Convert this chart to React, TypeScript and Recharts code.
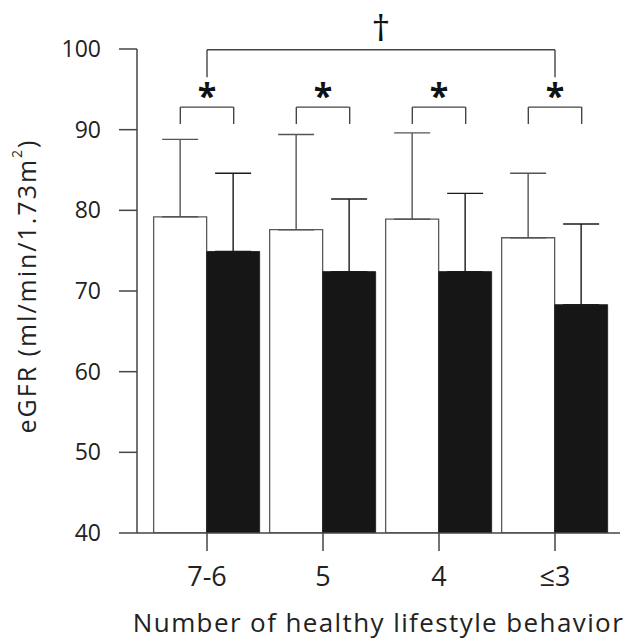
import React from 'react';
import { BarChart, Bar, XAxis, YAxis, ErrorBar, ReferenceLine } from 'recharts';

// ---- data ----
const categories = ['7-6', '5', '4', '≤3'];
const groupAMeans = [79.2, 77.6, 78.9, 76.6];
const groupASD = [9.6, 11.8, 10.7, 8.0];
const groupBMeans = [74.9, 72.4, 72.4, 68.3];
const groupBSD = [9.7, 9.0, 9.7, 10.0];
const yTicks = [40, 50, 60, 70, 80, 90, 100];
const pairBracketTop = 92.8;
const pairBracketFoot = 90.7;
const overallBracketTop = 99.9;
const overallBracketFoot = 96.5;

const data = categories.map((c, i) => ({
  cat: c,
  pos: i + 0.5,
  a: groupAMeans[i],
  aErr: [0, groupASD[i]],
  b: groupBMeans[i],
  bErr: [0, groupBSD[i]],
}));

const FONT = '"Open Sans", sans-serif';
const AXIS = '#444';
const GAP_FRAC = 0.04; // barCategoryGap as fraction of the band
const HALF_OFF = (1 - 2 * GAP_FRAC) / 4; // bar centre offset from band centre
const PAD = { left: 12, right: 7 };

const markLabel = (text: string, size: number, dy: number, weight: number) => (props: any) => {
  const vb = props.viewBox || {};
  const cx = vb.x + (vb.width || 0) / 2;
  return (
    <text x={cx} y={vb.y + dy} textAnchor="middle" fontSize={size} fontFamily={FONT}
      fontWeight={weight} fill="#111">
      {text}
    </text>
  );
};

const yLabel = (props: any) => {
  const vb = props.viewBox || {};
  const x = 26;
  const y = vb.y + vb.height / 2 - 5;
  return (
    <text x={x} y={y} transform={`rotate(-90, ${x}, ${y})`} textAnchor="middle"
      dominantBaseline="central" fontSize={25} letterSpacing={2} fontFamily={FONT} fill="#222">
      eGFR (ml/min/1.73m<tspan fontSize={14} dy={-10}>2</tspan><tspan dy={10}>)</tspan>
    </text>
  );
};

const xLabel = (props: any) => {
  const vb = props.viewBox || {};
  return (
    <text x={vb.x + vb.width / 2} y={632} textAnchor="middle" fontSize={26} letterSpacing={1.4}
      fontFamily={FONT} fill="#222">
      Number of healthy lifestyle behavior
    </text>
  );
};

export default function App() {
  const lines: React.ReactNode[] = [];
  categories.forEach((_, i) => {
    const l = i + 0.5 - HALF_OFF;
    const r = i + 0.5 + HALF_OFF;
    lines.push(
      <ReferenceLine key={`pt${i}`} xAxisId="pos" ifOverflow="visible" stroke={AXIS} strokeWidth={1.4}
        segment={[{ x: l, y: pairBracketTop }, { x: r, y: pairBracketTop }]}
        label={markLabel('*', 34, 1, 700)} />,
      <ReferenceLine key={`pl${i}`} xAxisId="pos" ifOverflow="visible" stroke={AXIS} strokeWidth={1.4}
        segment={[{ x: l, y: pairBracketTop }, { x: l, y: pairBracketFoot }]} />,
      <ReferenceLine key={`pr${i}`} xAxisId="pos" ifOverflow="visible" stroke={AXIS} strokeWidth={1.4}
        segment={[{ x: r, y: pairBracketTop }, { x: r, y: pairBracketFoot }]} />
    );
  });
  const first = 0.5;
  const last = categories.length - 0.5;
  lines.push(
    <ReferenceLine key="ot" xAxisId="pos" ifOverflow="visible" stroke={AXIS} strokeWidth={1.4}
      segment={[{ x: first, y: overallBracketTop }, { x: last, y: overallBracketTop }]}
      label={markLabel('†', 37, -9, 500)} />,
    <ReferenceLine key="ol" xAxisId="pos" ifOverflow="visible" stroke={AXIS} strokeWidth={1.4}
      segment={[{ x: first, y: overallBracketTop }, { x: first, y: overallBracketFoot }]} />,
    <ReferenceLine key="or" xAxisId="pos" ifOverflow="visible" stroke={AXIS} strokeWidth={1.4}
      segment={[{ x: last, y: overallBracketTop }, { x: last, y: overallBracketFoot }]} />
  );

  return (
    <div style={{ position: 'absolute', left: 0, top: 0, width: 628, height: 640, background: '#fff', fontFamily: FONT }}>
      <BarChart width={628} height={640} data={data}
        margin={{ top: 49, right: 8, bottom: 0, left: 0 }}
        barCategoryGap={`${GAP_FRAC * 100}%`} barGap={0}>
        <XAxis dataKey="cat" height={107} tickSize={18} tickMargin={16}
          axisLine={{ stroke: AXIS, strokeWidth: 1.5 }} tickLine={{ stroke: AXIS, strokeWidth: 1.5 }}
          tick={{ fontSize: 27, fill: '#222', fontFamily: FONT }} padding={PAD}
          label={xLabel} interval={0} />
        <XAxis xAxisId="pos" dataKey="pos" type="number" domain={[0, categories.length]} hide padding={PAD} allowDataOverflow />
        <YAxis domain={[40, 100]} ticks={yTicks} width={137} tickSize={18} tickMargin={18}
          axisLine={{ stroke: AXIS, strokeWidth: 1.5 }} tickLine={{ stroke: AXIS, strokeWidth: 1.5 }}
          tick={{ fontSize: 23, fill: '#222', fontFamily: FONT }} allowDataOverflow
          label={yLabel} interval={0} />
        <Bar dataKey="a" fill="#ffffff" stroke="#5a5a5a" strokeWidth={1.3} isAnimationActive={false}>
          <ErrorBar dataKey="aErr" width={18} stroke="#555" strokeWidth={1.4} direction="y" />
        </Bar>
        <Bar dataKey="b" fill="#161616" stroke="#2a2a2a" strokeWidth={1} isAnimationActive={false}>
          <ErrorBar dataKey="bErr" width={18} stroke="#1a1a1a" strokeWidth={1.4} direction="y" />
        </Bar>
        {lines}
      </BarChart>
    </div>
  );
}
